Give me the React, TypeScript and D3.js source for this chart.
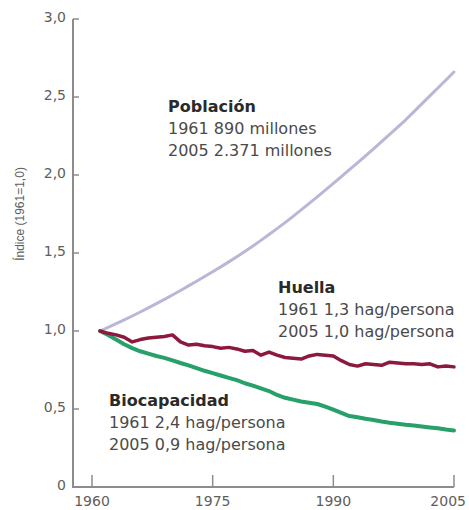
import React from "react";
import * as d3 from "d3";

const years: number[] = d3.range(1961, 2006);

const poblacion: number[] = [
  1.0, 1.023, 1.047, 1.071, 1.096, 1.122, 1.148, 1.175, 1.203, 1.231,
  1.26, 1.289, 1.319, 1.349, 1.38, 1.411, 1.443, 1.476, 1.51, 1.545,
  1.581, 1.618, 1.656, 1.695, 1.735, 1.776, 1.818, 1.86, 1.903, 1.946,
  1.99, 2.034, 2.078, 2.123, 2.168, 2.214, 2.26, 2.307, 2.354, 2.405,
  2.456, 2.507, 2.558, 2.609, 2.66,
];

const huella: number[] = [
  1.0, 0.985, 0.975, 0.96, 0.93, 0.945, 0.955, 0.96, 0.965, 0.975,
  0.93, 0.91, 0.915, 0.905, 0.9, 0.89, 0.895, 0.885, 0.87, 0.875,
  0.845, 0.865, 0.845, 0.83, 0.825, 0.82, 0.84, 0.85, 0.845, 0.84,
  0.81, 0.785, 0.775, 0.79, 0.785, 0.78, 0.8, 0.795, 0.79, 0.79,
  0.785, 0.79, 0.77, 0.775, 0.77,
];

const biocapacidad: number[] = [
  1.0, 0.975, 0.945, 0.915, 0.89, 0.87, 0.855, 0.84, 0.828, 0.812,
  0.795, 0.78, 0.762, 0.745, 0.73, 0.715, 0.7, 0.685, 0.665, 0.65,
  0.632, 0.615, 0.59, 0.572, 0.56, 0.548, 0.54, 0.532, 0.515, 0.496,
  0.475, 0.455, 0.447, 0.437, 0.43, 0.42, 0.412, 0.406, 0.399, 0.394,
  0.388, 0.382, 0.376, 0.368, 0.362,
];

const xTicks: number[] = [1960, 1975, 1990, 2005];
const yTicks: number[] = [0, 0.5, 1, 1.5, 2, 2.5, 3];
const yTickLabels: string[] = ["0", "0,5", "1,0", "1,5", "2,0", "2,5", "3,0"];

const yAxisLabel = "Índice (1961=1,0)";
const poblacionText: string[] = ["Población", "1961 890 millones", "2005 2.371 millones"];
const huellaText: string[] = ["Huella", "1961 1,3 hag/persona", "2005 1,0 hag/persona"];
const bioText: string[] = ["Biocapacidad", "1961 2,4 hag/persona", "2005 0,9 hag/persona"];

const W = 469;
const H = 510;

export default function App() {
  const x = d3.scaleLinear().domain([1960, 2005]).range([92, 454]);
  const y = d3.scaleLinear().domain([0, 3]).range([487, 19]);
  const axisX = 73;

  const line = d3
    .line<number>()
    .x((_, i) => x(years[i]))
    .y((v) => y(v))
    .curve(d3.curveLinear);

  const series = [
    { data: poblacion, color: "#bab6d8", width: 3 },
    { data: biocapacidad, color: "#27a06a", width: 4 },
    { data: huella, color: "#8b1a3c", width: 3.5 },
  ];

  const font = "'DejaVu Sans', sans-serif";
  const annot = (lines: string[], x0: number, y0: number) => (
    <g>
      {lines.map((t, i) => (
        <text
          key={i}
          x={x0}
          y={y0 + i * 22}
          fontFamily={font}
          fontSize={16}
          fontWeight={i === 0 ? "bold" : "normal"}
          fill={i === 0 ? "#2a2a2a" : "#4a4a4a"}
        >
          {t}
        </text>
      ))}
    </g>
  );

  return (
    <svg
      width={W}
      height={H}
      style={{ position: "absolute", left: 0, top: 0, display: "block", background: "#fff" }}
    >
      <rect width={W} height={H} fill="#fff" />
      <path
        d={`M${axisX},${y(3)} V${y(0)} H${x(2005)}`}
        fill="none"
        stroke="#8c8c8c"
        strokeWidth={2}
      />
      {yTicks.map((t, i) => (
        <g key={t}>
          <line x1={axisX} x2={axisX + 6} y1={y(t)} y2={y(t)} stroke="#8c8c8c" strokeWidth={1.5} />
          <text
            x={66}
            y={y(t)}
            dy="0.2em"
            textAnchor="end"
            fontFamily={font}
            fontSize={14}
            fill="#5e5e5e"
          >
            {yTickLabels[i]}
          </text>
        </g>
      ))}
      {xTicks.map((t, i) => {
        const last = i === xTicks.length - 1;
        return (
          <g key={t}>
            <line x1={x(t)} x2={x(t)} y1={y(0)} y2={y(0) - 12} stroke="#8c8c8c" strokeWidth={1.5} />
            <text
              x={last ? W - 3 : x(t)}
              y={506}
              textAnchor={last ? "end" : "middle"}
              fontFamily={font}
              fontSize={14}
              fill="#5e5e5e"
            >
              {t}
            </text>
          </g>
        );
      })}
      <text
        transform={`translate(24,214) rotate(-90)`}
        textAnchor="middle"
        fontFamily="'Liberation Sans', Arial, sans-serif"
        fontSize={12}
        fill="#5e5e5e"
      >
        {yAxisLabel}
      </text>
      {series.map((s, i) => (
        <path
          key={i}
          d={line(s.data) || ""}
          fill="none"
          stroke={s.color}
          strokeWidth={s.width}
          strokeLinejoin="round"
          strokeLinecap="round"
        />
      ))}
      {annot(poblacionText, 168, 112)}
      {annot(huellaText, 278, 293)}
      {annot(bioText, 109, 406)}
    </svg>
  );
}
